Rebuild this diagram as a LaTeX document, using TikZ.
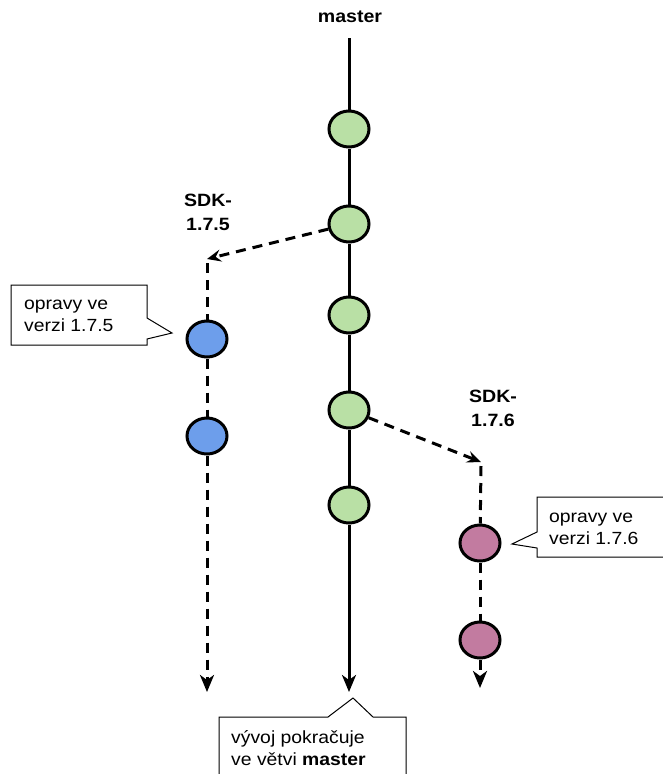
\documentclass[tikz,border=0pt]{standalone}
\usepackage{fontspec}
\setmainfont{Liberation Sans}[FakeStretch=1.1]
\usetikzlibrary{arrows.meta,shapes.geometric}
\definecolor{gfill}{HTML}{B9E0A5}
\definecolor{bfill}{HTML}{6D9EEB}
\definecolor{pfill}{HTML}{C27BA0}
\newcommand{\mastersize}{\fontsize{17.8}{20}\selectfont\bfseries}
\newcommand{\calloutsize}{\fontsize{17.6}{22}\selectfont}
\newcommand{\sdksize}{\fontsize{17.8}{24}\selectfont\bfseries}
\tikzset{
  commit/.style={ellipse, draw=black, line width=3pt, minimum width=40pt, minimum height=36pt, inner sep=0pt},
  mline/.style={line width=3pt},
  dline/.style={line width=3pt, dash pattern=on 10pt off 7pt},
  tip/.style={-{Stealth[length=17pt,width=14pt,inset=5pt]}},
  smalltip/.style={-{Stealth[length=14pt,width=12pt,inset=5pt]}},
  callout/.style={draw=black, line width=1pt, fill=white},
  ctext/.style={font=\calloutsize, align=left, inner sep=0pt, anchor=west},
  lbl/.style={font=\sdksize, align=center, inner sep=0pt},
  mlbl/.style={font=\mastersize, align=center, inner sep=0pt}
}
\begin{document}
\begin{tikzpicture}[x=1pt,y=-1pt]
\useasboundingbox (0,0) rectangle (662,774);
% master branch
\node[mlbl] (mlabel) at (350,17) {master};
\coordinate (mtop) at (349,38);
\coordinate (mend) at (349,692);
\node[commit, fill=gfill] (g1) at (349,129) {};
\node[commit, fill=gfill] (g2) at (349,224) {};
\node[commit, fill=gfill] (g3) at (349,315) {};
\node[commit, fill=gfill] (g4) at (349,410) {};
\node[commit, fill=gfill] (g5) at (349,505) {};
\draw[mline] (mtop) -- (g1);
\draw[mline] (g1) -- (g2);
\draw[mline] (g2) -- (g3);
\draw[mline] (g3) -- (g4);
\draw[mline] (g4) -- (g5);
\draw[mline, tip] (g5) -- (mend);
% left branch
\node[lbl] (sdk5) at (208,212) {SDK-\\1.7.5};
\coordinate (c1) at (207,259);
\coordinate (c1b) at (207,263);
\coordinate (e1) at (207,692);
\node[commit, fill=bfill] (b1) at (207,339) {};
\node[commit, fill=bfill] (b2) at (207,436) {};
\draw[dline, smalltip] (g2) -- (c1);
\draw[dline] (c1b) -- (b1);
\draw[dline] (b1) -- (b2);
\draw[dline, tip] (b2) -- (e1);
% right branch
\node[lbl] (sdk6) at (493,408) {SDK-\\1.7.6};
\coordinate (c2) at (481,462);
\coordinate (c2b) at (481,466);
\coordinate (e2) at (480,688);
\node[commit, fill=pfill] (p1) at (480,543) {};
\node[commit, fill=pfill] (p2) at (480,640) {};
\draw[dline, smalltip] (g4) -- (c2);
\draw[dline] (c2b) -- (p1);
\draw[dline] (p1) -- (p2);
\draw[dline, tip] (p2) -- (e2);
% callouts
\draw[callout] (11,285) -- (147,285) -- (147,318) -- (172,333) -- (147,339) -- (147,345) -- (11,345) -- cycle;
\node[ctext] (t1) at (24,316) {opravy ve\\verzi 1.7.5};
\draw[callout] (537,497) -- (666,497) -- (666,557) -- (537,557) -- (537,548) -- (512,544) -- (537,532) -- cycle;
\node[ctext] (t2) at (549,529) {opravy ve\\verzi 1.7.6};
\draw[callout] (219,780) -- (219,717) -- (328,717) -- (353,698) -- (373,717) -- (406,717) -- (406,780);
\node[ctext] (t3) at (231,748) {vývoj pokračuje\\ve větvi \textbf{master}};
\end{tikzpicture}
\end{document}
